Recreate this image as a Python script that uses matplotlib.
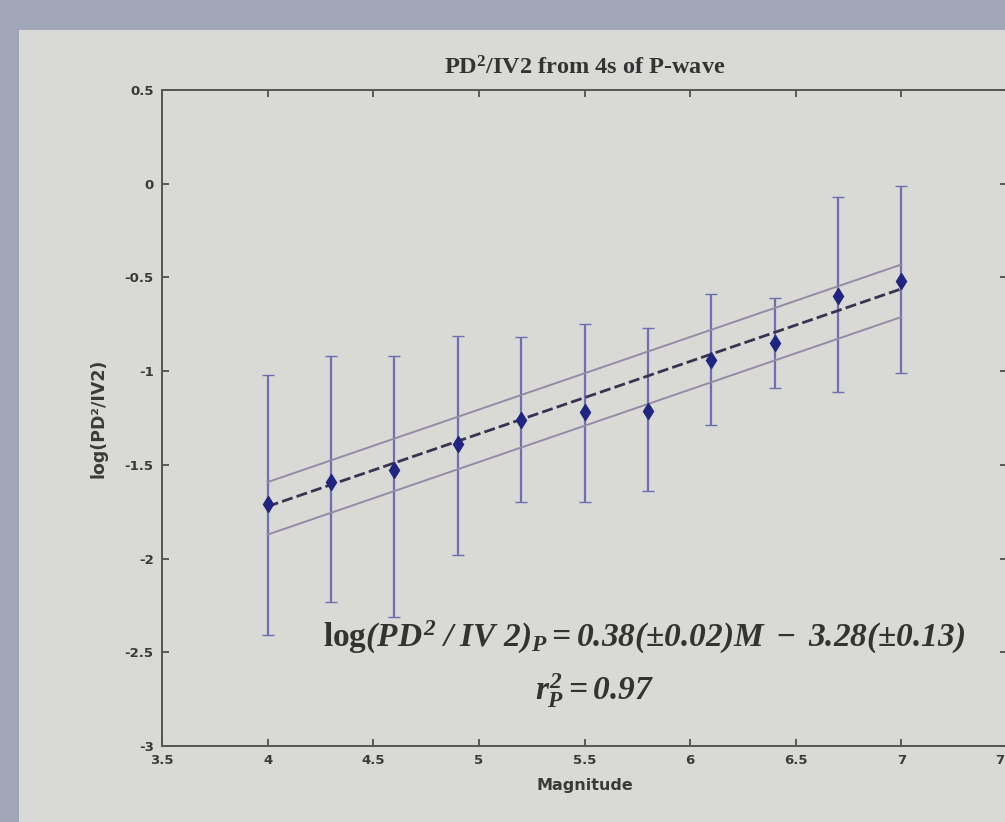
import matplotlib
matplotlib.use("Agg")
import matplotlib.pyplot as plt
import numpy as np
from matplotlib.patches import Rectangle

# ---- data ----
magnitude = [4.0, 4.3, 4.6, 4.9, 5.2, 5.5, 5.8, 6.1, 6.4, 6.7, 7.0]
log_ratio = [-1.71, -1.59, -1.53, -1.39, -1.26, -1.22, -1.21, -0.94, -0.85, -0.60, -0.52]
err_upper = [-1.02, -0.92, -0.92, -0.81, -0.82, -0.75, -0.77, -0.59, -0.61, -0.07, -0.01]
err_lower = [-2.41, -2.23, -2.31, -1.98, -1.70, -1.70, -1.64, -1.29, -1.09, -1.11, -1.01]
fit_slope = 0.387
fit_intercept = -3.27
conf_upper_offset = 0.13
conf_lower_offset = -0.15
fit_range = [4.0, 7.0]
x_ticks = [3.5, 4, 4.5, 5, 5.5, 6, 6.5, 7, 7.5]
x_ticklabels = ["3.5", "4", "4.5", "5", "5.5", "6", "6.5", "7", "7.5"]
y_ticks = [0.5, 0, -0.5, -1, -1.5, -2, -2.5, -3]
y_ticklabels = ["0.5", "0", "-0.5", "-1", "-1.5", "-2", "-2.5", "-3"]

panel_col = "#d9d9d6"
border_col = "#a1a7b8"

plt.rcParams["mathtext.fontset"] = "custom"
plt.rcParams["mathtext.rm"] = "Liberation Serif:italic:bold"
plt.rcParams["mathtext.it"] = "Liberation Serif:italic:bold"
plt.rcParams["mathtext.bf"] = "Liberation Serif:bold"
plt.rcParams["mathtext.sf"] = "Liberation Serif:bold"

fig = plt.figure(figsize=(10.05, 8.22), dpi=100)
fig.patch.set_facecolor(border_col)
fig.patches.append(Rectangle((19 / 1005, 0), 1 - 19 / 1005, 1 - 30 / 822,
                             transform=fig.transFigure, facecolor=panel_col,
                             edgecolor="none", zorder=-10))

ax = fig.add_axes([162 / 1005, 1 - 746 / 822, 845 / 1005, (746 - 90) / 822])
ax.set_facecolor(panel_col)

x = np.array(magnitude)
y = np.array(log_ratio)
lo = y - np.array(err_lower)
hi = np.array(err_upper) - y
ax.errorbar(x, y, yerr=[lo, hi], fmt="none", ecolor="#6d6fb0", elinewidth=1.6,
            capsize=4, capthick=1.0, zorder=2)

xf = np.array(fit_range)
yf = fit_slope * xf + fit_intercept
ax.plot(xf, yf + conf_upper_offset, color="#968aa4", lw=1.4, zorder=3)
ax.plot(xf, yf + conf_lower_offset, color="#968aa4", lw=1.4, zorder=3)
ax.plot(xf, yf, color="#3a3350", lw=2.0, ls=(0, (4, 1.5)), zorder=4)
ax.plot(x, y, ls="none", marker="d", ms=8, color="#1f2580", zorder=5)

ax.set_xlim(3.5, 7.5)
ax.set_ylim(-3, 0.5)
ax.set_xticks(x_ticks)
ax.set_xticklabels(x_ticklabels)
ax.set_yticks(y_ticks)
ax.set_yticklabels(y_ticklabels)
ax.tick_params(direction="in", length=5, width=1.2, top=True, right=True,
               labelsize=9.5, colors="#444444", labelcolor="#3a3a3a", pad=6)
for lab in ax.get_xticklabels() + ax.get_yticklabels():
    lab.set_fontweight("bold")
for s in ax.spines.values():
    s.set_color("#555555")
    s.set_linewidth(1.4)

ax.set_title(r"PD$^\mathbf{2}$/IV2 from 4s of P-wave", fontsize=17.5, fontweight="bold",
             family="Liberation Serif", color="#333333", pad=11)
ax.set_xlabel("Magnitude", fontsize=11.5, fontweight="bold", color="#3a3a3a",
              labelpad=8)
ax.set_ylabel("log(PD²/IV2)", fontsize=12.5, fontweight="bold", color="#3a3a3a",
              labelpad=12)

ax.text(0.19, 0.165,
        r"$\mathbf{log}(PD^2\;/\;IV\ 2)_P=0.38(\pm0.02)M\;-\;3.28(\pm0.13)$",
        transform=ax.transAxes, fontsize=24, color="#333333", ha="left", va="center")
ax.text(0.512, 0.085, r"$r_P^2=0.97$", transform=ax.transAxes,
        fontsize=24, color="#333333", ha="center", va="center")

fig.savefig("out.png", dpi=100, facecolor=fig.get_facecolor())
